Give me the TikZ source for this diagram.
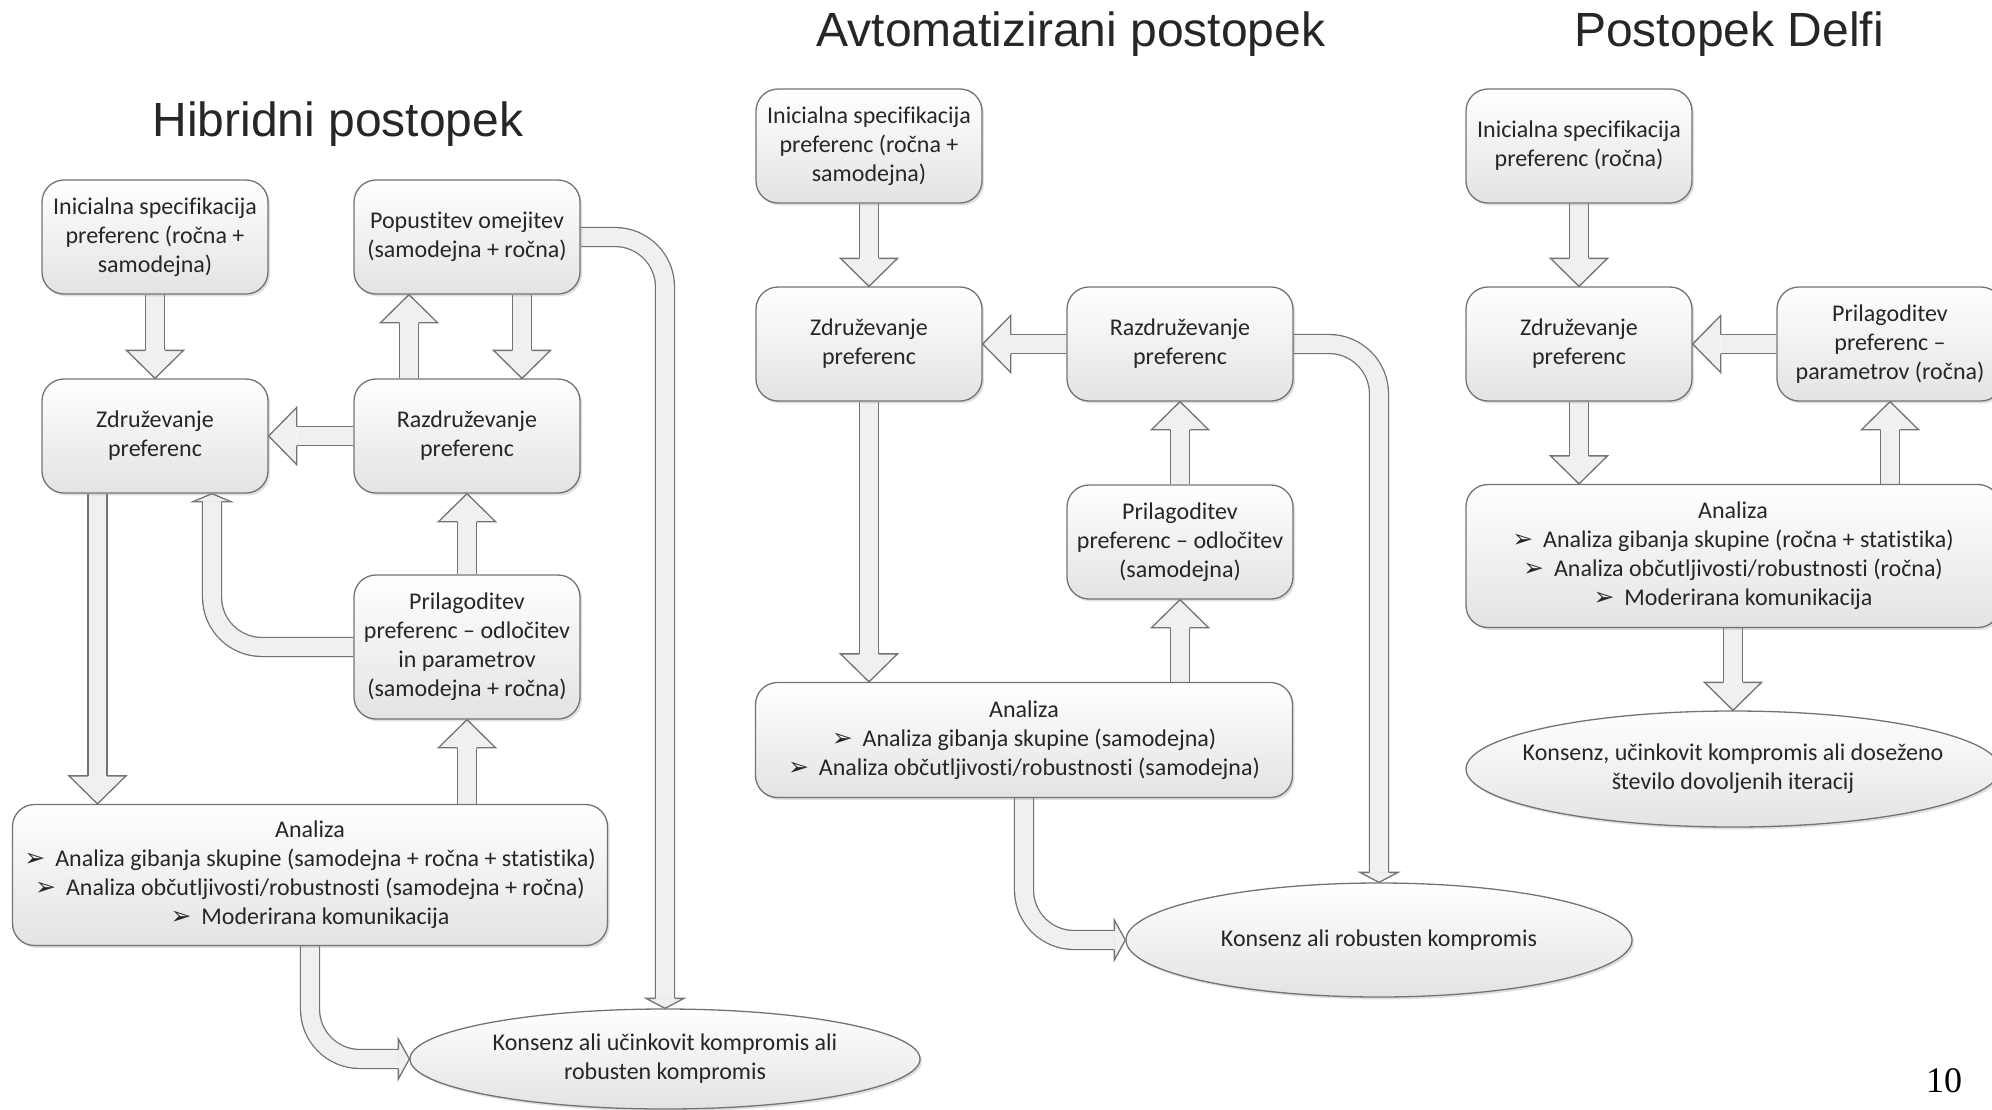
\documentclass[tikz,border=0pt]{standalone}
\usepackage{fontspec}
\setmainfont{Carlito}[Ligatures=NoCommon]
\newfontfamily\titlefont{Liberation Sans}
\newfontfamily\pagefont{Liberation Serif}
\newfontfamily\symfont{DejaVu Sans}
\usetikzlibrary{shapes.geometric,positioning,calc,shadows}

\pgfdeclarelayer{background}
\pgfsetlayers{background,main}

\newcommand{\boxfont}{\fontsize{12}{14.5}\selectfont}
\newcommand{\bul}{{\symfont\fontsize{12.5}{10}\selectfont ➢}\hspace{5pt}}

\tikzset{
    box/.style={draw=black!55, line width=0.65pt, rounded corners=11pt,
        top color=white, bottom color=black!11, text=black!85, font=\boxfont,
        align=center, inner sep=2pt, minimum width=113pt, minimum height=57pt,
        drop shadow={shadow xshift=1pt, shadow yshift=-1.2pt, opacity=0.25}},
    oval/.style={box, ellipse, inner xsep=-30pt, inner ysep=0pt},
    shaft/.style={draw=black!55, line width=0.65pt, double=black!6, double distance=8.85pt},
    arrowedge/.style={draw=black!55, line width=0.65pt},
    arrowfill/.style={fill=black!6},
    title/.style={font=\titlefont\fontsize{24}{28}\selectfont, text=black!85}
}

% head of a block arrow: base, tip, half width
\newcommand{\blockhead}[3]{%
    \fill[arrowfill] ($(#1)!#3!90:(#2)$) -- (#2) -- ($(#1)!#3!-90:(#2)$) -- cycle;
    \draw[arrowedge] ($(#1)!4.75pt!90:(#2)$) -- ($(#1)!#3!90:(#2)$) -- (#2)
        -- ($(#1)!#3!-90:(#2)$) -- ($(#1)!4.75pt!-90:(#2)$);
}
% straight block arrow
\newcommand{\blockarrow}[2]{%
    \coordinate (hb) at ($(#2)!14pt!(#1)$);
    \draw[shaft] (#1) -- (hb);
    \blockhead{hb}{#2}{14.25pt}
}

\begin{document}
\begin{tikzpicture}[x=0.5pt, y=-0.5pt]
    \useasboundingbox (0,0) rectangle (1992,1109);

    % Titles
    \node[title] (tHib) at (338,124) {Hibridni postopek};
    \node[title] (tAvt) at (1071,34) {Avtomatizirani postopek};
    \node[title] (tDel) at (1729,34) {Postopek Delfi};
    \node[font=\pagefont\fontsize{18}{20}\selectfont] (pnum) at (1944,1081) {10};

    % Hibridni postopek
    \node[box] (initL) at (155,237) {Inicialna specifikacija\\preferenc (ročna +\\samodejna)};
    \node[box] (popL) at (467,237) {Popustitev omejitev\\(samodejna + ročna)};
    \node[box] (zdrL) at (155,436) {Združevanje\\preferenc};
    \node[box] (razL) at (467,436) {Razdruževanje\\preferenc};
    \node[box, minimum height=72pt] (priL) at (467,647) {Prilagoditev\\preferenc – odločitev\\in parametrov\\(samodejna + ročna)};
    \node[box, minimum width=297.5pt, minimum height=70.5pt] (anaL) at (310,875) {Analiza\\\bul Analiza gibanja skupine (samodejna + ročna + statistika)\\\bul Analiza občutljivosti/robustnosti (samodejna + ročna)\\\bul Moderirana komunikacija};
    \node[oval, minimum width=255pt, minimum height=50pt] (konL) at (665,1059) {Konsenz ali učinkovit kompromis ali\\robusten kompromis};

    % Avtomatizirani postopek
    \node[box] (initM) at (869,146) {Inicialna specifikacija\\preferenc (ročna +\\samodejna)};
    \node[box] (zdrM) at (869,344) {Združevanje\\preferenc};
    \node[box] (razM) at (1180,344) {Razdruževanje\\preferenc};
    \node[box] (priM) at (1180,542) {Prilagoditev\\preferenc – odločitev\\(samodejna)};
    \node[box, minimum width=268.5pt, minimum height=57.5pt] (anaM) at (1024,740) {Analiza\\\bul Analiza gibanja skupine (samodejna)\\\bul Analiza občutljivosti/robustnosti (samodejna)};
    \node[oval, minimum width=253pt, minimum height=57pt] (konM) at (1379,940) {Konsenz ali robusten kompromis};

    % Postopek Delfi
    \node[box] (initR) at (1579,146) {Inicialna specifikacija\\preferenc (ročna)};
    \node[box] (zdrR) at (1579,344) {Združevanje\\preferenc};
    \node[box] (priR) at (1890,344) {Prilagoditev\\preferenc –\\parametrov (ročna)};
    \node[box, minimum width=267pt, minimum height=71.5pt] (anaR) at (1733,556) {Analiza\\\bul Analiza gibanja skupine (ročna + statistika)\\\bul Analiza občutljivosti/robustnosti (ročna)\\\bul Moderirana komunikacija};
    \node[oval, minimum width=267pt, minimum height=58pt] (konR) at (1733,769) {Konsenz, učinkovit kompromis ali doseženo\\število dovoljenih iteracij};

    \begin{pgfonlayer}{background}
        % Straight arrows
        \coordinate (uL) at ([xshift=-29pt]razL.north);
        \coordinate (dL) at ([xshift=27.5pt]popL.south);
        \coordinate (zL) at ([xshift=-28.75pt]zdrL.south);
        \foreach \a/\b in {initL.south/zdrL.north, uL/uL |- popL.south, dL/dL |- razL.north,
                razL.west/zdrL.east, priL.north/razL.south, zL/zL |- anaL.north,
                priL.south |- anaL.north/priL.south,
                initM.south/zdrM.north, razM.west/zdrM.east, zdrM.south/zdrM.south |- anaM.north,
                priM.south |- anaM.north/priM.south, priM.north/razM.south,
                initR.south/zdrR.north, priR.west/zdrR.east, zdrR.south/zdrR.south |- anaR.north,
                priR.south |- anaR.north/priR.south, anaR.south/konR.north}
            {\blockarrow{\a}{\b}}

        % Bent arrows
        \coordinate (t1) at ([xshift=28.5pt]zdrL.south);
        \coordinate (b1) at ([yshift=-4pt]t1);
        \draw[shaft, rounded corners=25pt] (priL.west) -| (b1);
        \blockhead{b1}{t1}{9.5pt}

        \coordinate (b2) at ([yshift=5pt]konL.north);
        \draw[shaft, rounded corners=25pt] (popL.east) -| (b2);
        \blockhead{b2}{konL.north}{9.5pt}

        \coordinate (b3) at ([xshift=-5.5pt]konL.west);
        \draw[shaft, rounded corners=25pt] (anaL.south) |- (b3);
        \blockhead{b3}{konL.west}{10pt}

        \coordinate (b4) at ([yshift=5pt]konM.north);
        \draw[shaft, rounded corners=25pt] (razM.east) -| (b4);
        \blockhead{b4}{konM.north}{9.5pt}

        \coordinate (b5) at ([xshift=-5.5pt]konM.west);
        \draw[shaft, rounded corners=25pt] (anaM.south) |- (b5);
        \blockhead{b5}{konM.west}{10pt}
    \end{pgfonlayer}
\end{tikzpicture}
\end{document}
